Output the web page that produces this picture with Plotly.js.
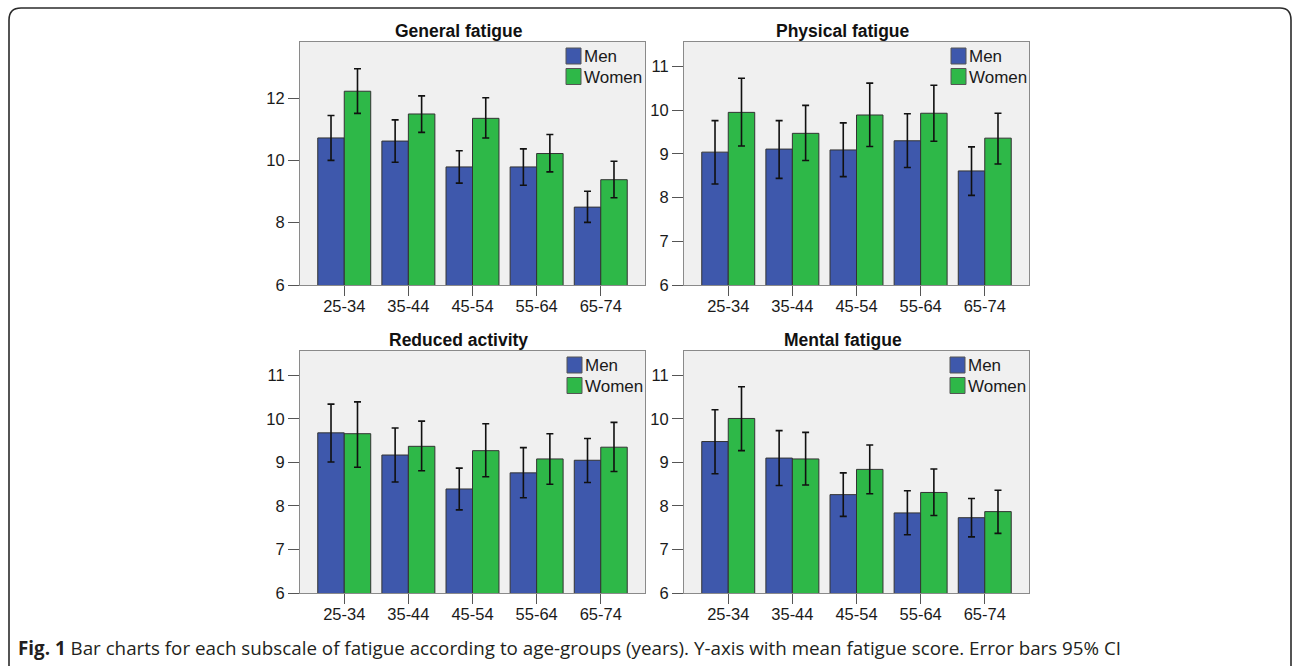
<!DOCTYPE html>
<html>
<head>
<meta charset="utf-8">
<script src="https://cdn.plot.ly/plotly-3.0.1.min.js"></script>
<style>
html,body{margin:0;padding:0;background:#fff;}
#chart{width:1292px;height:666px;}
</style>
</head>
<body>
<div id="chart"></div>
<script>
// ---------- data ----------
const ageGroups = ['25-34', '35-44', '45-54', '55-64', '65-74'];
const seriesNames = ['Men', 'Women'];
const panelTitles = ['General fatigue', 'Physical fatigue', 'Reduced activity', 'Mental fatigue'];
const captionBold = 'Fig. 1';
const captionText = 'Bar charts for each subscale of fatigue according to age-groups (years). Y-axis with mean fatigue score. Error bars 95% CI';

// General fatigue
const genMen      = [10.72, 10.62, 9.79, 9.79, 8.50];
const genMenHi    = [11.44, 11.30, 10.31, 10.37, 9.01];
const genMenLo    = [10.00, 9.94, 9.27, 9.20, 8.01];
const genWomen    = [12.22, 11.49, 11.35, 10.22, 9.38];
const genWomenHi  = [12.94, 12.07, 12.01, 10.83, 9.97];
const genWomenLo  = [11.51, 10.90, 10.72, 9.63, 8.80];

// Physical fatigue
const phyMen      = [9.04, 9.11, 9.09, 9.30, 8.61];
const phyMenHi    = [9.76, 9.76, 9.71, 9.92, 9.16];
const phyMenLo    = [8.31, 8.44, 8.48, 8.69, 8.05];
const phyWomen    = [9.95, 9.47, 9.89, 9.93, 9.36];
const phyWomenHi  = [10.73, 10.11, 10.62, 10.57, 9.93];
const phyWomenLo  = [9.18, 8.85, 9.17, 9.29, 8.77];

// Reduced activity
const redMen      = [9.68, 9.17, 8.39, 8.76, 9.05];
const redMenHi    = [10.34, 9.79, 8.87, 9.34, 9.55];
const redMenLo    = [9.01, 8.55, 7.91, 8.19, 8.54];
const redWomen    = [9.66, 9.37, 9.27, 9.08, 9.35];
const redWomenHi  = [10.39, 9.95, 9.89, 9.66, 9.92];
const redWomenLo  = [8.89, 8.81, 8.67, 8.50, 8.79];

// Mental fatigue
const mentMen     = [9.48, 9.10, 8.26, 7.84, 7.73];
const mentMenHi   = [10.21, 9.73, 8.76, 8.35, 8.17];
const mentMenLo   = [8.74, 8.47, 7.76, 7.34, 7.29];
const mentWomen   = [10.01, 9.08, 8.84, 8.31, 7.87];
const mentWomenHi = [10.74, 9.69, 9.40, 8.85, 8.36];
const mentWomenLo = [9.27, 8.48, 8.28, 7.78, 7.37];

// ---------- helpers ----------
const W = 1292, H = 666;
const px = x => x / W;
const py = y => 1 - y / H;
const colors = ['#3e58ac', '#2eb848'];
const SANS = 'Liberation Sans, Arial, sans-serif';
const AX_FONT = {family: SANS, size: 16.5, color: '#1a1a1a'};

const panels = [
  {men: genMen,  menHi: genMenHi,  menLo: genMenLo,  wom: genWomen,  womHi: genWomenHi,  womLo: genWomenLo},
  {men: phyMen,  menHi: phyMenHi,  menLo: phyMenLo,  wom: phyWomen,  womHi: phyWomenHi,  womLo: phyWomenLo},
  {men: redMen,  menHi: redMenHi,  menLo: redMenLo,  wom: redWomen,  womHi: redWomenHi,  womLo: redWomenLo},
  {men: mentMen, menHi: mentMenHi, menLo: mentMenLo, wom: mentWomen, womHi: mentWomenHi, womLo: mentWomenLo}
];

const traces = [];
panels.forEach((p, i) => {
  const ax = i === 0 ? '' : String(i + 1);
  const sets = [[p.men, p.menHi, p.menLo], [p.wom, p.womHi, p.womLo]];
  sets.forEach((s, k) => {
    traces.push({
      type: 'bar',
      name: seriesNames[k],
      x: ageGroups,
      y: s[0],
      xaxis: 'x' + ax,
      yaxis: 'y' + ax,
      showlegend: false,
      marker: {color: colors[k], line: {color: '#333333', width: 1}},
      error_y: {
        type: 'data', symmetric: false,
        array: s[0].map((v, j) => s[1][j] - v),
        arrayminus: s[0].map((v, j) => v - s[2][j]),
        color: '#111', thickness: 1.6, width: 3.5
      },
      hoverinfo: 'x+y+name'
    });
  });
});

// ---------- layout ----------
const xDomLeft = [px(300), px(645)];
const xDomRight = [px(684), px(1029)];
const yDomTop = [py(285), py(42)];
const yDomBot = [py(593), py(351)];
const xRange = [-0.69, 4.69];

function xAxis(dom, anchor) {
  return {
    domain: dom, anchor: anchor, type: 'category', range: xRange,
    showline: true, mirror: true, linecolor: '#8a8a8a', linewidth: 1,
    ticks: 'outside', ticklen: 10, tickcolor: '#555', tickwidth: 1,
    ticklabelstandoff: -4,
    showgrid: false, zeroline: false, tickfont: AX_FONT, fixedrange: true
  };
}
function yAxis(dom, anchor, range, dtick) {
  return {
    domain: dom, anchor: anchor, range: range, tick0: 6, dtick: dtick,
    showline: true, mirror: true, linecolor: '#8a8a8a', linewidth: 1,
    ticks: 'outside', ticklen: 11, tickcolor: '#555', tickwidth: 1,
    showgrid: false, zeroline: false, tickfont: AX_FONT, fixedrange: true
  };
}

const titlePos = [[458.5, 31], [843, 31], [458.5, 340], [843, 340]];
const annotations = panelTitles.map((t, i) => ({
  text: '<b>' + t + '</b>', showarrow: false,
  xref: 'paper', yref: 'paper', x: px(titlePos[i][0]), y: py(titlePos[i][1]),
  xanchor: 'center', yanchor: 'middle',
  font: {family: SANS, size: 17.5, color: '#111'}
}));
annotations.push({
  text: '<b>' + captionBold + '</b> ' + captionText, showarrow: false,
  xref: 'paper', yref: 'paper', x: px(16), y: py(648),
  xanchor: 'left', yanchor: 'middle',
  font: {family: 'Open Sans, sans-serif', size: 18.8, color: '#231f20'}
});

// legend boxes (one per panel): swatch top-left corners
const legendPos = [[566, 48], [951, 48], [567, 357], [950, 357]];
const shapes = [];
legendPos.forEach(([lx, ly]) => {
  seriesNames.forEach((name, k) => {
    const top = ly + k * 20.5;
    shapes.push({
      type: 'rect', xref: 'paper', yref: 'paper',
      x0: px(lx), x1: px(lx + 15), y0: py(top + 16), y1: py(top),
      fillcolor: colors[k], line: {color: '#555', width: 1}
    });
    annotations.push({
      text: name, showarrow: false, xref: 'paper', yref: 'paper',
      x: px(lx + 16), y: py(top + 8.5), xanchor: 'left', yanchor: 'middle',
      font: {family: SANS, size: 17, color: '#1a1a1a'}
    });
  });
});

const framePath = 'M ' + px(9) + ',' + py(690) +
  ' L ' + px(9) + ',' + py(20) +
  ' Q ' + px(9) + ',' + py(8) + ' ' + px(21) + ',' + py(8) +
  ' L ' + px(1280) + ',' + py(8) +
  ' Q ' + px(1291) + ',' + py(8) + ' ' + px(1291) + ',' + py(20) +
  ' L ' + px(1291) + ',' + py(690);
shapes.push({
  type: 'path', xref: 'paper', yref: 'paper', path: framePath,
  line: {color: '#2b2b2b', width: 1.6}, layer: 'above'
});

const layout = {
  width: W, height: H,
  margin: {l: 0, r: 0, t: 0, b: 0, pad: 0},
  paper_bgcolor: '#ffffff', plot_bgcolor: '#f0f0f0',
  barmode: 'group', bargap: 0.174, bargroupgap: 0,
  showlegend: false,
  xaxis: xAxis(xDomLeft, 'y'),
  yaxis: yAxis(yDomTop, 'x', [6, 13.80], 2),
  xaxis2: xAxis(xDomRight, 'y2'),
  yaxis2: yAxis(yDomTop, 'x2', [6, 11.56], 1),
  xaxis3: xAxis(xDomLeft, 'y3'),
  yaxis3: yAxis(yDomBot, 'x3', [6, 11.56], 1),
  xaxis4: xAxis(xDomRight, 'y4'),
  yaxis4: yAxis(yDomBot, 'x4', [6, 11.56], 1),
  annotations: annotations,
  shapes: shapes
};

Plotly.newPlot('chart', traces, layout, {displayModeBar: false, staticPlot: true});
</script>
</body>
</html>
